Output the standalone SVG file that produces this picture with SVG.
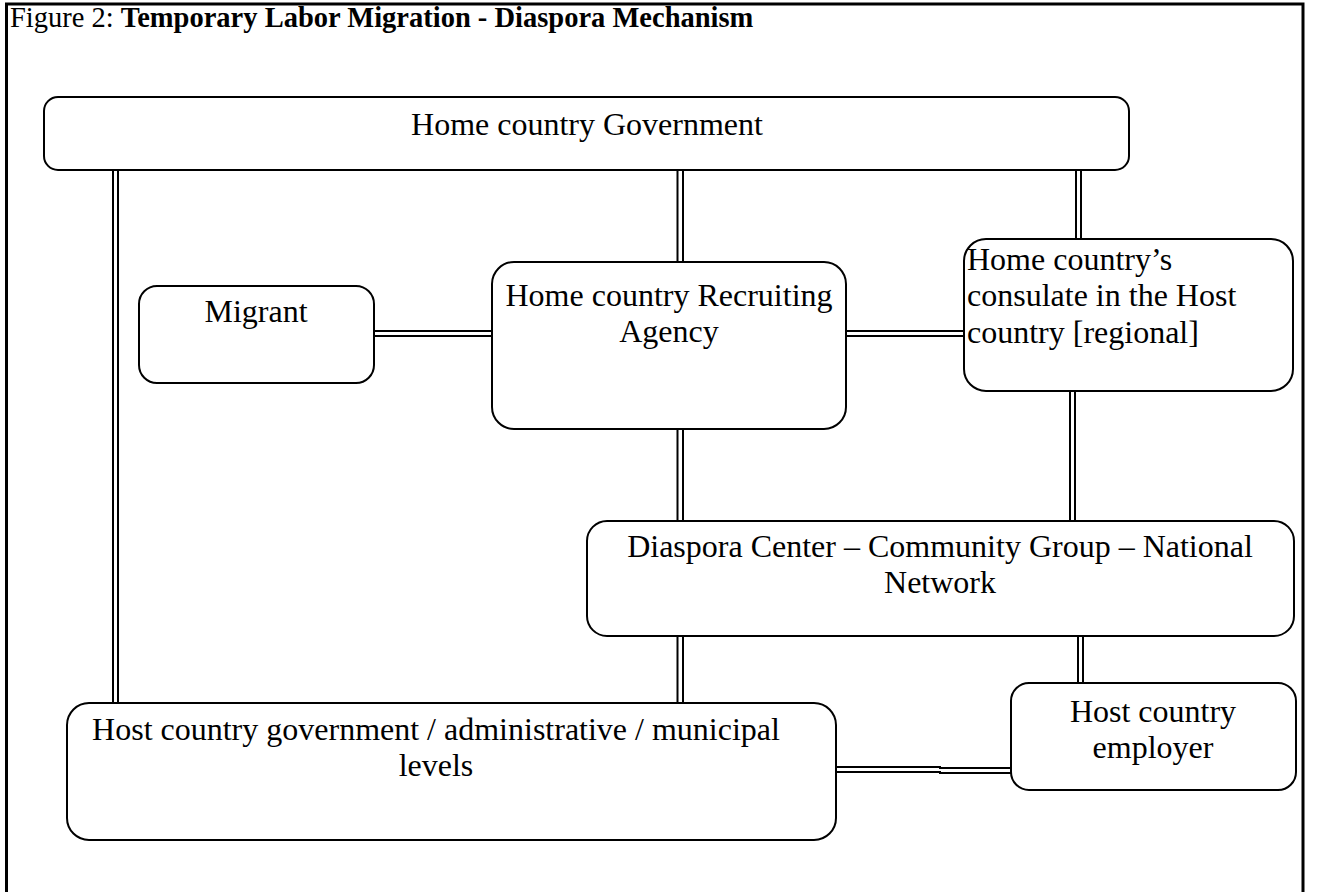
<svg xmlns="http://www.w3.org/2000/svg" width="1320" height="892" viewBox="0 0 1320 892">
<style>
.box{fill:#fff;stroke:#000;stroke-width:2}
.t{font-family:"Liberation Serif","Times New Roman",serif;font-size:32px;fill:#000}
.c{text-anchor:middle}
.ln{stroke:#000;stroke-width:2;fill:none}
.frame{fill:none;stroke:#000;stroke-width:3}
</style>
<rect width="1320" height="892" fill="#fff"/>
<path class="frame" d="M6.5 900 V4 H1303 V900"/>
<text x="10" y="27" font-family="'Liberation Serif','Times New Roman',serif" font-size="28.5">Figure 2: <tspan font-weight="bold">Temporary Labor Migration - Diaspora Mechanism</tspan></text>
<g id="connectors">
<path class="ln" d="M113 170V703M118 170V703"/>
<path class="ln" d="M677.5 170V262M683 170V262"/>
<path class="ln" d="M1076 170V239M1081 170V239"/>
<path class="ln" d="M374 331H492M374 336H492"/>
<path class="ln" d="M846 331H964M846 336H964"/>
<path class="ln" d="M677.5 429V521M683 429V521"/>
<path class="ln" d="M1070 391V521M1075 391V521"/>
<path class="ln" d="M677.5 636V703M683 636V703"/>
<path class="ln" d="M1078 636V683M1083 636V683"/>
<path class="ln" d="M836 767H940V768H1011M836 772H940V773H1011"/>
</g>
<g id="gov">
<rect class="box" x="44" y="97" width="1085" height="73" rx="14"/>
<text class="t c" x="587" y="135">Home country Government</text>
</g>
<g id="migrant">
<rect class="box" x="139" y="286" width="235" height="97" rx="18"/>
<text class="t c" x="256" y="322">Migrant</text>
</g>
<g id="agency">
<rect class="box" x="492" y="262" width="354" height="167" rx="22"/>
<text class="t c" x="669" y="306">Home country Recruiting</text>
<text class="t c" x="669" y="342">Agency</text>
</g>
<g id="consulate">
<rect class="box" x="964" y="239" width="329" height="152" rx="22"/>
<text class="t" x="967" y="270">Home country’s</text>
<text class="t" x="967" y="306">consulate in the Host</text>
<text class="t" x="967" y="343">country [regional]</text>
</g>
<g id="diaspora">
<rect class="box" x="587" y="521" width="707" height="115" rx="20"/>
<text class="t c" x="940" y="557">Diaspora Center – Community Group – National</text>
<text class="t c" x="940" y="593">Network</text>
</g>
<g id="hostgov">
<rect class="box" x="67" y="703" width="769" height="137" rx="22"/>
<text class="t c" x="436" y="740">Host country government / administrative / municipal</text>
<text class="t c" x="436" y="776">levels</text>
</g>
<g id="employer">
<rect class="box" x="1011" y="683" width="285" height="107" rx="18"/>
<text class="t c" x="1153" y="722">Host country</text>
<text class="t c" x="1153" y="758">employer</text>
</g>
</svg>
